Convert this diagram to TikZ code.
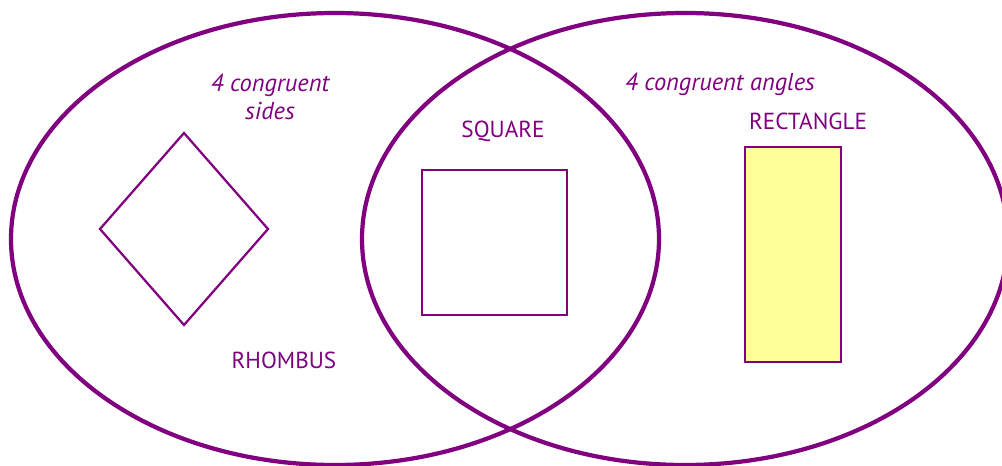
\documentclass[tikz,border=0pt]{standalone}
\usepackage{fontspec}
\setmainfont{PT Sans}
\usetikzlibrary{positioning}
\definecolor{VennPurple}{RGB}{128,0,128}
\definecolor{PaleYellow}{RGB}{255,255,153}
\tikzset{
  ring/.style={draw=VennPurple,line width=3pt},
  shapeline/.style={draw=VennPurple,line width=1.6pt},
  propnote/.style={text=VennPurple,font=\fontsize{17.4}{20}\selectfont\itshape,align=center,inner sep=0pt},
  namelabel/.style={text=VennPurple,font=\fontsize{16.5}{19}\selectfont,inner sep=0pt}
}

\begin{document}
\begin{tikzpicture}[x=0.025cm,y=-0.025cm]
  \useasboundingbox (0,0) rectangle (1002,466);
  \clip (0,0) rectangle (1002,466);

  % the two sets
  \draw[ring] (335,239) ellipse [x radius=324,y radius=226];
  \draw[ring] (685,239) ellipse [x radius=323,y radius=226];

  % shapes
  \draw[shapeline] (184,133) -- (268,229) -- (184,325) -- (100,229) -- cycle;
  \draw[shapeline] (422,170) rectangle (567,315);
  \draw[shapeline,fill=PaleYellow] (745,147) rectangle (841,362);

  % labels
  \node[propnote] (sides) at (270,97) {4 congruent\\sides};
  \node[propnote] (angles) at (720,84) {4 congruent angles};
  \node[namelabel] (square) at (503,131) {SQUARE};
  \node[namelabel] (rect) at (808,121) {RECTANGLE};
  \node[namelabel] (rhombus) at (284,360) {RHOMBUS};
\end{tikzpicture}
\end{document}
